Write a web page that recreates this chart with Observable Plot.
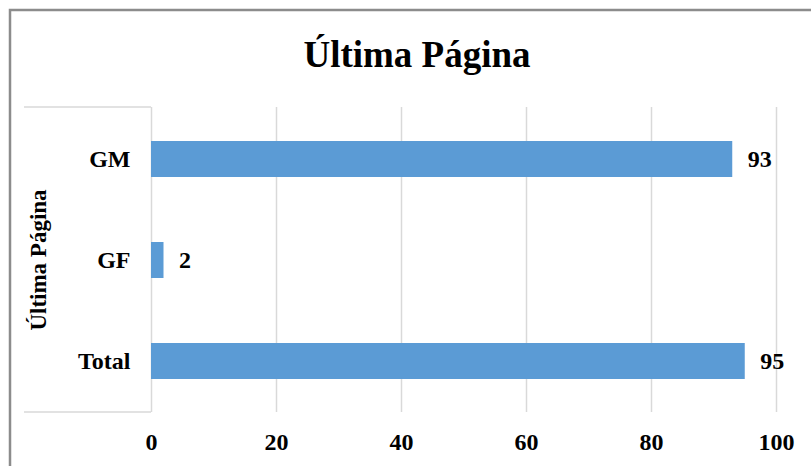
<!DOCTYPE html>
<html>
<head>
<meta charset="utf-8">
<script src="https://cdn.jsdelivr.net/npm/d3@7"></script>
<script src="https://cdn.jsdelivr.net/npm/@observablehq/plot@0.6"></script>
<style>
  html, body { margin: 0; padding: 0; background: #fff; }
  #chart svg { display: block; }
</style>
</head>
<body>
<div id="chart"></div>
<script>
// Última Página — respuestas por grupo
const categories = ["GM", "GF", "Total"];
const values = [93, 2, 95];
const xTicks = [0, 20, 40, 60, 80, 100];
const chartTitle = "Última Página";
const axisTitle = "Última Página";

const rows = categories.map((c, i) => ({categoria: c, valor: values[i]}));

const serif = "'Liberation Serif', 'Times New Roman', Times, serif";

// Outer chart border plus the light box framing the category labels
function decoration(index, scales, channels, dims) {
  const g = d3.create("svg:g");
  const top = dims.marginTop;
  const bottom = dims.height - dims.marginBottom;
  const left = dims.marginLeft;
  g.append("path")
    .attr("d", `M10,${dims.height + 20}V10H${dims.width + 20}`)
    .attr("fill", "none")
    .attr("stroke", "#8c8c8c")
    .attr("stroke-width", 2.5);
  g.append("path")
    .attr("d", `M24,${top}H${left}M24,${bottom}H${left}`)
    .attr("fill", "none")
    .attr("stroke", "#d9d9d9")
    .attr("stroke-width", 1.5);
  return g.node();
}

const chart = Plot.plot({
  width: 811,
  height: 466,
  marginLeft: 151,
  marginRight: 35,
  marginTop: 107,
  marginBottom: 54,
  style: {fontFamily: serif, fontWeight: "bold", fontSize: "24px", color: "#000", background: "#fff", overflow: "visible"},
  x: {domain: [0, 100]},
  y: {domain: categories, paddingInner: 0.646, paddingOuter: 0.323},
  marks: [
    decoration,
    Plot.gridX(xTicks, {stroke: "#d9d9d9", strokeOpacity: 1, strokeWidth: 1.5}),
    Plot.barX(rows, {x: "valor", y: "categoria", fill: "#5B9BD5"}),
    Plot.text(rows, {x: "valor", y: "categoria", text: d => String(d.valor), dx: 15, textAnchor: "start", fontSize: 24, fontWeight: "bold", fill: "#000"}),
    Plot.axisX(xTicks, {tickSize: 0, tickPadding: 20, fontSize: 24, fontWeight: "bold", label: null}),
    Plot.axisY({tickSize: 0, tickPadding: 21, fontSize: 24, fontWeight: "bold", label: null}),
    Plot.text([chartTitle], {text: d => d, frameAnchor: "top", lineAnchor: "middle", textAnchor: "middle", dx: -47, dy: -52, fontSize: 37, fontWeight: "bold", fill: "#000"}),
    Plot.text([axisTitle], {text: d => d, frameAnchor: "left", lineAnchor: "middle", textAnchor: "middle", dx: -113, rotate: -90, fontSize: 23, fontWeight: "bold", fill: "#000"})
  ]
});

document.getElementById("chart").appendChild(chart);
</script>
</body>
</html>
